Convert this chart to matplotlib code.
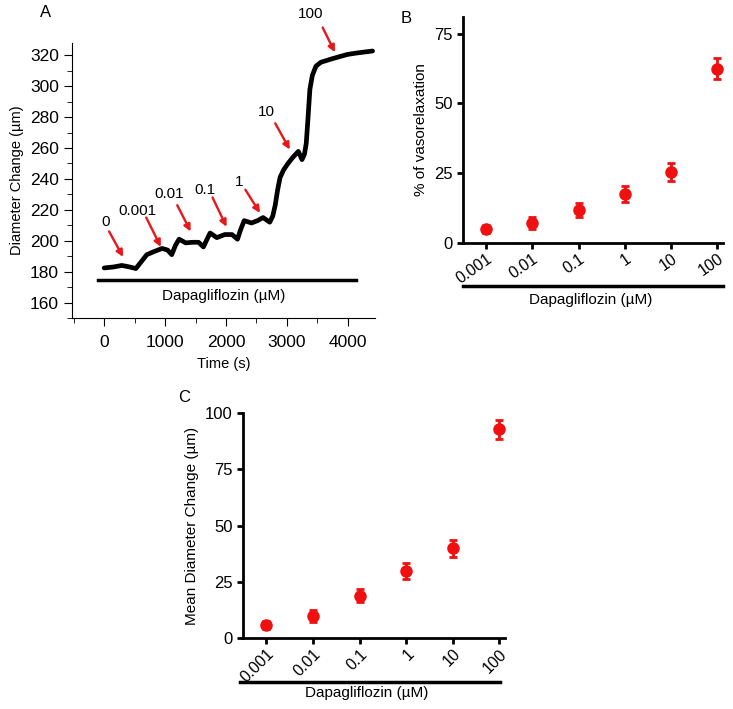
import matplotlib
matplotlib.use('Agg')
import matplotlib.pyplot as plt
from matplotlib.lines import Line2D

plt.rcParams['font.family'] = ['Liberation Sans', 'DejaVu Sans']

# Panel A: diameter trace over time
time_s = [0, 150, 290, 420, 520, 600, 700, 820, 950, 1040, 1110, 1170, 1230, 1340, 1450, 1550, 1630,
          1690, 1740, 1850, 1980, 2100, 2190, 2240, 2300, 2420, 2520, 2610, 2720, 2770, 2810, 2850,
          2890, 2950, 3020, 3100, 3190, 3250, 3290, 3320, 3350, 3380, 3420, 3480, 3560, 3730, 3900,
          4000, 4150, 4410]
diameter = [182.4, 183, 184, 183, 182, 186, 191, 193, 195, 194, 191, 197, 201, 198.6, 199, 199, 196,
            201, 205, 202, 204, 204, 201, 207, 213, 211.5, 213, 215, 212, 216, 223, 233,
            241, 246, 250, 254, 257.8, 252.5, 256, 263, 280, 298, 307, 313, 315.5, 317.6, 319.5,
            320.6, 321.5, 322.8]
dose_labels = ['0', '0.001', '0.01', '0.1', '1', '10', '100']
arrow_tips = [(310, 189.5), (930, 196), (1420, 206), (2010, 209), (2560, 218), (3050, 259), (3790, 322)]
arrow_tails = [(80, 206), (690, 215), (1200, 223), (1780, 228), (2320, 233), (2810, 276), (3590, 338)]
label_pos = [(20, 212), (540, 219.5), (1060, 230), (1660, 233), (2210, 238), (2670, 283), (3400, 346.5)]

# Panels B and C
doses = ['0.001', '0.01', '0.1', '1', '10', '100']
vasorelax = [5.0, 7.2, 11.8, 17.6, 25.5, 62.5]
vasorelax_err = [1.6, 2.2, 2.4, 2.8, 3.2, 3.9]
mean_diam = [5.8, 9.8, 18.8, 29.8, 39.9, 92.8]
mean_diam_err = [1.8, 2.8, 3.0, 3.7, 3.7, 4.3]

fig = plt.figure(figsize=(7.33, 7.09), dpi=100)

# ---- A ----
axA = fig.add_axes([0.0982, 0.5515, 0.4134, 0.3879])
axA.plot(time_s, diameter, color='black', lw=3.4, solid_capstyle='round')
for lab, tip, tail, pos in zip(dose_labels, arrow_tips, arrow_tails, label_pos):
    axA.annotate('', xy=tip, xytext=tail,
                 arrowprops=dict(arrowstyle='-|>', color='#e8171b', lw=1.7, mutation_scale=10,
                                 shrinkA=0, shrinkB=0),
                 annotation_clip=False)
    axA.text(pos[0], pos[1], lab, ha='center', va='center', fontsize=11, clip_on=False)
axA.plot([-110, 4130], [174.6, 174.6], color='black', lw=2.5)
axA.text(1960, 164.5, 'Dapagliflozin (µM)', ha='center', va='center', fontsize=11)
axA.set_xlim(-530, 4450)
axA.set_ylim(150, 328)
axA.set_xticks([0, 1000, 2000, 3000, 4000])
axA.set_xticks(range(-500, 4500, 500), minor=True)
axA.set_yticks(range(160, 321, 20))
axA.set_yticks(range(150, 330, 10), minor=True)
axA.spines['top'].set_visible(False)
axA.spines['right'].set_visible(False)
axA.tick_params(which='major', length=6, labelsize=12.5)
axA.tick_params(axis='x', which='major', pad=6)
axA.tick_params(which='minor', length=3.5)
axA.set_xlabel('Time (s)', fontsize=10.5, labelpad=5)
axA.set_ylabel('Diameter Change (µm)', fontsize=10.5)


def dose_panel(ax, vals, errs, ylim, yticks, ylabel, line_y, text_xy, line_x, rot):
    x = list(range(len(doses)))
    ax.errorbar(x, vals, yerr=errs, fmt='o', color='#f01010', ms=8, elinewidth=2,
                capsize=3, capthick=2, clip_on=False, zorder=3)
    ax.set_xlim(-0.5, 5.12)
    ax.set_ylim(*ylim)
    ax.set_yticks(yticks)
    ax.set_xticks(x)
    ax.set_xticklabels(doses, rotation=rot, ha='right', rotation_mode='anchor', fontsize=11.5)
    for s in ['top', 'right']:
        ax.spines[s].set_visible(False)
    for s in ['left', 'bottom']:
        ax.spines[s].set_linewidth(2)
    ax.tick_params(width=2, length=4)
    ax.tick_params(axis='x', pad=2)
    ax.tick_params(axis='y', labelsize=12)
    ax.set_ylabel(ylabel, fontsize=11)
    ax.add_line(Line2D(line_x, [line_y, line_y], transform=ax.transAxes, color='black',
                       lw=2.5, clip_on=False))
    ax.text(text_xy[0], text_xy[1], 'Dapagliflozin (µM)', transform=ax.transAxes,
            ha='center', va='center', fontsize=11)


axB = fig.add_axes([0.6317, 0.6573, 0.3547, 0.3188])
dose_panel(axB, vasorelax, vasorelax_err, (0, 81), [0, 25, 50, 75], '% of vasorelaxation',
           -0.19, (0.49, -0.252), [0, 1], 35)

axC = fig.add_axes([0.3315, 0.1001, 0.3574, 0.3173])
dose_panel(axC, mean_diam, mean_diam_err, (0, 100), [0, 25, 50, 75, 100], 'Mean Diameter Change (µm)',
           -0.196, (0.473, -0.244), [-0.01, 0.98], 45)

fig.text(0.055, 0.983, 'A', fontsize=12, va='center')
fig.text(0.546, 0.974, 'B', fontsize=12, va='center')
fig.text(0.243, 0.44, 'C', fontsize=12, va='center')

fig.savefig('out.png', dpi=100)
